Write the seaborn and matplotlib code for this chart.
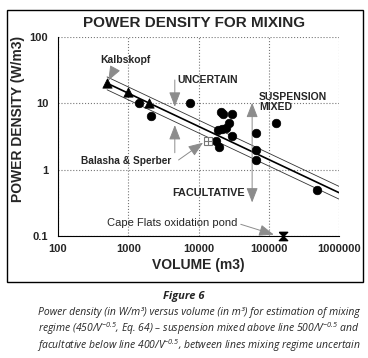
# Power density vs volume chart for mixing regimes
import matplotlib
matplotlib.use('Agg')
import matplotlib.pyplot as plt
import seaborn as sns
from matplotlib.patches import Rectangle

# Data
circ_vol = [1400, 2100, 7600, 21000, 22000, 29800, 27500, 25000, 21800, 19000,
            29800, 18000, 19700, 66000, 66000, 66000, 126000, 490000]
circ_pd = [10.2, 6.5, 10.0, 7.5, 6.8, 6.8, 5.1, 4.2, 4.1, 3.9,
           3.2, 2.7, 2.17, 3.6, 1.98, 1.4, 5.0, 0.49]

tri_vol = [500, 1000, 2000]
tri_pd = [20, 15, 10]

balasha_vol = [13700]
balasha_pd = [2.75]

cape_vol = [158000]
cape_pd = [0.1]

# mixing line and the two boundary lines as drawn in the figure
line_vol = [500, 1000000]
line_mid = [20.1, 0.45]
line_upper = [25.0, 0.56]
line_lower = [16.0, 0.36]

x_ticks = [100, 1000, 10000, 100000, 1000000]
y_ticks = [0.1, 1, 10, 100]

sns.set_style('white')
plt.rcParams['font.family'] = ['Liberation Sans', 'DejaVu Sans']

fig = plt.figure(figsize=(3.68, 3.58), dpi=100)
ax = fig.add_axes([58 / 368, 1 - 236 / 358, 281 / 368, 199 / 358])

# model lines
sns.lineplot(x=line_vol, y=line_mid, ax=ax, color='black', lw=1.2)
sns.lineplot(x=line_vol, y=line_upper, ax=ax, color='#333333', lw=0.6)
sns.lineplot(x=line_vol, y=line_lower, ax=ax, color='#333333', lw=0.6)

# data
sns.scatterplot(x=circ_vol, y=circ_pd, ax=ax, marker='o', color='black',
                s=38, edgecolor='black', zorder=5)
sns.scatterplot(x=tri_vol, y=tri_pd, ax=ax, marker='^', color='black',
                s=45, edgecolor='black', zorder=5)
ax.plot(balasha_vol, balasha_pd, marker='s', ms=6, mfc='white',
        mec='#777777', mew=0.8, ls='none', zorder=5)
ax.plot(balasha_vol, balasha_pd, marker='+', ms=6, mec='#777777',
        mew=0.8, ls='none', zorder=6)
hourglass = [(-1, 1), (1, 1), (-1, -1), (1, -1), (-1, 1)]
ax.plot(cape_vol, cape_pd, marker=hourglass, ms=6, color='black',
        ls='none', zorder=6, clip_on=False)

ax.set_xscale('log')
ax.set_yscale('log')
ax.set_xlim(100, 1000000)
ax.set_ylim(0.1, 100)
ax.set_xticks(x_ticks)
ax.set_xticklabels([str(v) for v in x_ticks], fontweight='bold', fontsize=8)
ax.set_yticks(y_ticks)
ax.set_yticklabels(['0.1', '1', '10', '100'], fontweight='bold', fontsize=8)
ax.tick_params(axis='x', which='major', direction='in', length=5, width=0.8, pad=6)
ax.tick_params(axis='x', which='minor', direction='in', length=3, width=0.6)
ax.tick_params(axis='y', which='major', direction='inout', length=8, width=0.8, pad=3)
ax.tick_params(axis='y', which='minor', direction='inout', length=5, width=0.6)
ax.grid(which='major', ls=':', color='#777777', lw=0.8)
ax.grid(which='minor', visible=False)
for s in ['top', 'right']:
    ax.spines[s].set_visible(False)
for s in ['left', 'bottom']:
    ax.spines[s].set_color('black')
    ax.spines[s].set_linewidth(0.8)

ax.set_xlabel('VOLUME (m3)', fontweight='bold', fontsize=10, labelpad=3)
ax.set_ylabel('')
fig.text(18 / 368, 1 - 119 / 358, 'POWER DENSITY (W/m3)', rotation=90,
         ha='center', va='center', fontweight='bold', fontsize=10)
fig.text(194 / 368, 1 - 23 / 358, 'POWER DENSITY FOR MIXING', ha='center',
         va='center', fontweight='bold', fontsize=11)

# annotations
arrow = dict(arrowstyle='-|>,head_length=0.9,head_width=0.35', color='#555555',
             fc='#8c8c8c', ec='#8c8c8c', lw=0.7, shrinkA=0, shrinkB=0)
ax.text(900, 45, 'Kalbskopf', ha='center', va='center', fontweight='bold', fontsize=7.5)
ax.annotate('', xy=(520, 22), xytext=(640, 33), arrowprops=arrow)

ax.text(5000, 22.5, 'UNCERTAIN', ha='left', va='center', fontweight='bold', fontsize=7.5)
ax.annotate('', xy=(4600, 8.9), xytext=(4600, 22.5), arrowprops=arrow)
ax.annotate('', xy=(4600, 4.7), xytext=(4600, 1.8), arrowprops=arrow)

ax.text(73000, 10.5, 'SUSPENSION\nMIXED', ha='left', va='center',
        fontweight='bold', fontsize=7.5, linespacing=1.0)
ax.annotate('', xy=(58000, 10.2), xytext=(58000, 0.32),
            arrowprops=dict(arrow, arrowstyle='<|-|>,head_length=0.9,head_width=0.35'))
ax.text(46000, 0.44, 'FACULTATIVE', ha='right', va='center', fontweight='bold', fontsize=7.8)

ax.text(930, 1.35, 'Balasha & Sperber', ha='center', va='center', fontweight='bold', fontsize=7.3)
ax.annotate('', xy=(11600, 2.55), xytext=(5200, 1.4), arrowprops=arrow)

ax.text(4200, 0.157, 'Cape Flats oxidation pond', ha='center', va='center', fontsize=8)
ax.annotate('', xy=(118000, 0.105), xytext=(40000, 0.15), arrowprops=arrow)

# outer frame
fig.add_artist(Rectangle((7 / 368, 1 - 282 / 358), 356 / 368, 272 / 358,
                         transform=fig.transFigure, fill=False, ec='black', lw=1))

# caption
plt.rcParams['mathtext.fontset'] = 'custom'
plt.rcParams['mathtext.rm'] = 'Open Sans:italic'
plt.rcParams['mathtext.it'] = 'Open Sans:italic'
fig.text(184 / 368, 1 - 297 / 358, 'Figure 6', ha='center', va='center',
         family='Open Sans', style='italic', fontweight='bold', fontsize=8)
cap_lines = ['Power density (in W/m³) versus volume (in m³) for estimation of mixing',
             r'regime (450/V$^{-0.5}$, Eq. 64) – suspension mixed above line 500/V$^{-0.5}$ and',
             r'facultative below line 400/V$^{-0.5}$, between lines mixing regime uncertain']
for i, t in enumerate(cap_lines):
    fig.text(199 / 368, 1 - (312 + 17 * i) / 358, t, ha='center', va='center',
             family='Open Sans', style='italic', fontsize=7.5)

fig.savefig('out.png', dpi=100)
